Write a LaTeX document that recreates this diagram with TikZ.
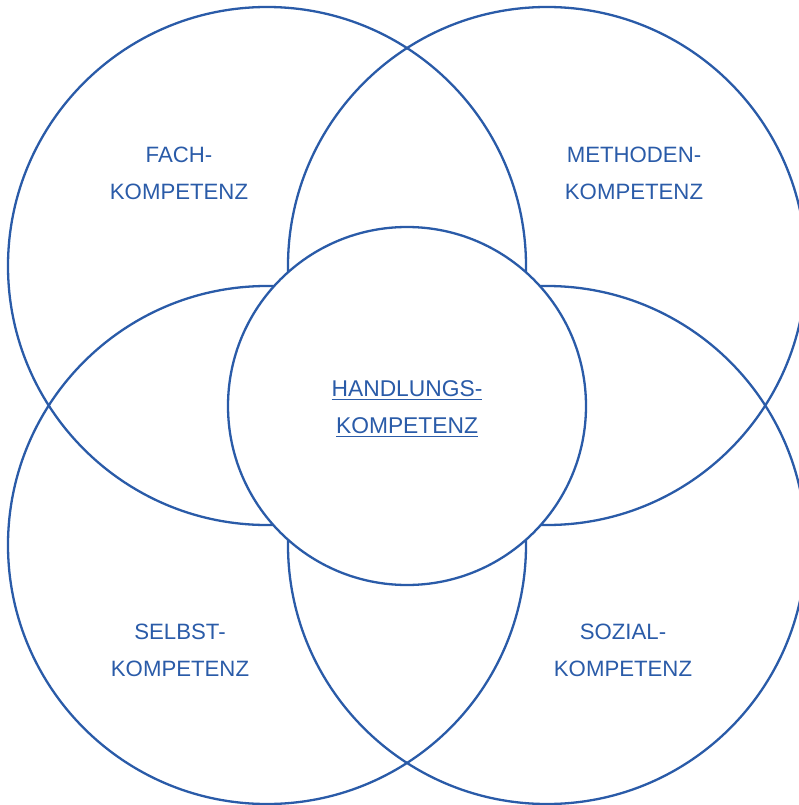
\documentclass[tikz,border=0pt]{standalone}
\usepackage{fontspec}
\setmainfont{Liberation Sans}
\definecolor{kblue}{RGB}{42,91,168}
\newcommand\kul[1]{\setbox0\hbox{#1}\rlap{\rule[-4.1pt]{\wd0}{1.6pt}}\box0}
\begin{document}
\begin{tikzpicture}[x=1pt,y=-1pt,
  ring/.style={circle,draw=kblue,line width=2.3pt,inner sep=0pt,outer sep=0pt},
  bigring/.style={ring,minimum size=518pt},
  midring/.style={ring,minimum size=358pt,fill=white},
  lbl/.style={anchor=base,align=center,text=kblue,inner sep=0pt,
    font=\fontsize{22.2}{37}\selectfont}]
\useasboundingbox (0,0) rectangle (799,805);
\node[bigring] (tl) at (267,266) {};
\node[bigring] (tr) at (547,266) {};
\node[bigring] (bl) at (267,545) {};
\node[bigring] (br) at (547,545) {};
\node[midring] (mid) at (407,406) {};
\node[lbl] (fach) at (179,200) {FACH-\\KOMPETENZ};
\node[lbl] (meth) at (634,200) {METHODEN-\\KOMPETENZ};
\node[lbl] (selb) at (180,676) {SELBST-\\KOMPETENZ};
\node[lbl] (soz) at (623,676) {SOZIAL-\\KOMPETENZ};
\node[lbl,font=\fontsize{22.8}{37}\selectfont] (hand) at (407,433) {\kul{HANDLUNGS-}\\\kul{KOMPETENZ}};
\end{tikzpicture}
\end{document}
